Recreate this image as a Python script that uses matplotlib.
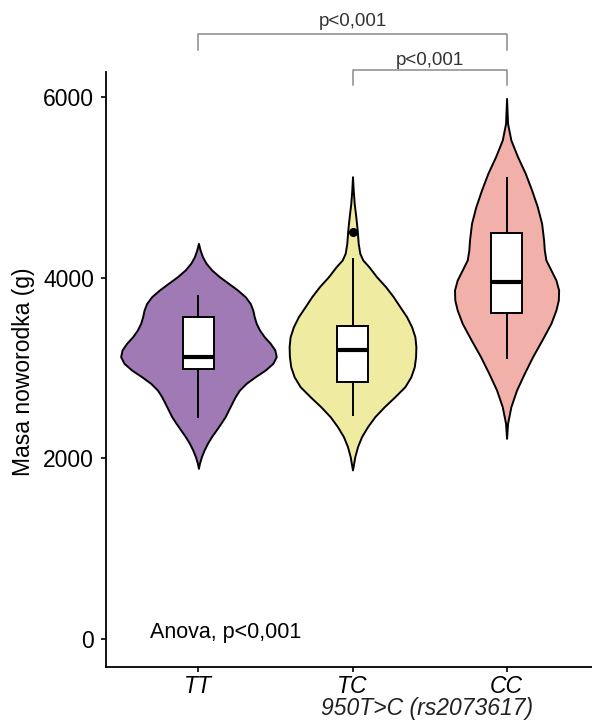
import numpy as np
import matplotlib
matplotlib.use("Agg")
import matplotlib.pyplot as plt

plt.rcParams['font.family'] = ['Liberation Sans', 'DejaVu Sans']

# genotypy
groups = ["TT", "TC", "CC"]
colors = ["#A07AB4", "#EFEBA0", "#F2B0AA"]

# profil gestosci (masa w g, szerokosc w jednostkach wzglednych)
tt_mass = [4379, 4305, 4232, 4158, 4084, 4010, 3937, 3863, 3789, 3715, 3641, 3568,
           3494, 3420, 3346, 3273, 3199, 3125, 3051, 2977, 2903, 2830, 2756, 2682,
           2608, 2535, 2461, 2387, 2313, 2239, 2166, 2092, 2018, 1944, 1889]
tt_dens = [0, 1.7, 4, 7.7, 13.3, 21, 30, 39, 46.7, 51.7, 54.3, 55.7,
           57.7, 61, 65.7, 71.7, 76.3, 77.7, 74.3, 66.7, 56.7, 47.7, 41, 36.7,
           33.3, 30, 26.7, 22.3, 17.7, 13, 9, 5.7, 3, 1, 0]

tc_mass = [5117, 4970, 4822, 4674, 4527, 4379, 4269, 4195, 4121, 4010, 3900, 3789,
           3678, 3568, 3457, 3346, 3236, 3125, 3014, 2903, 2793, 2682, 2571, 2461,
           2350, 2239, 2129, 2018, 1871]
tc_dens = [0, 0.7, 1.7, 3.3, 4.7, 5.7, 7.3, 10.3, 16.3, 24, 33, 40.7,
           47.3, 54, 59, 62.3, 63.3, 63, 61.7, 58.3, 52.3, 42.3, 31.7, 22.3,
           15, 9, 5, 2.3, 0]

cc_mass = [5984, 5707, 5523, 5338, 5154, 4970, 4785, 4601, 4416, 4305, 4195, 4084,
           3973, 3863, 3752, 3641, 3494, 3309, 3125, 2940, 2756, 2571, 2387, 2221]
cc_dens = [0, 1, 4.3, 11, 18.7, 25, 30.7, 35, 37, 37.7, 39.3, 44.3,
           49.3, 52, 51.7, 49.3, 44.3, 35.3, 26, 17.7, 10, 4.3, 1, 0]

# statystyki boxplotu
whis_lo = [2461, 2479, 3106]
q1 = [2985, 2848, 3612]
median = [3125, 3199, 3955]
q3 = [3560, 3464, 4494]
whis_hi = [3796, 4202, 5100]
outliers = [[], [4508], []]

comparisons = [(1, 3, "p<0,001"), (2, 3, "p<0,001")]
anova_label = "Anova, p<0,001"

fig = plt.figure(figsize=(5.92, 7.22), dpi=100)
ax = fig.add_axes([106 / 592, 55 / 722, 493 / 592, 595 / 722])

profiles = [(tt_mass, tt_dens), (tc_mass, tc_dens), (cc_mass, cc_dens)]
dmax = max(max(d) for _, d in profiles)
for i, (m, d) in enumerate(profiles):
    pos = i + 1
    hw = np.array(d) / dmax * 0.505
    ax.fill_betweenx(m, pos - hw, pos + hw, facecolor=colors[i],
                     edgecolor="black", linewidth=1.4, zorder=2)

stats = []
for i in range(3):
    stats.append(dict(whislo=whis_lo[i], q1=q1[i], med=median[i], q3=q3[i],
                      whishi=whis_hi[i], fliers=outliers[i]))
ax.bxp(stats, positions=[1, 2, 3], widths=0.2, patch_artist=True,
       showcaps=False, manage_ticks=False,
       boxprops=dict(facecolor="white", edgecolor="black", linewidth=1.4),
       medianprops=dict(color="black", linewidth=3.0),
       whiskerprops=dict(color="black", linewidth=1.4),
       flierprops=dict(marker="o", markerfacecolor="black", markeredgecolor="black",
                       markersize=5.5),
       zorder=3)

ax.set_xlim(0.4, 3.6)
ax.set_ylim(-310, 6276)
ax.set_xticks([1, 2, 3])
ax.set_xticklabels(groups, fontstyle="italic")
ax.set_yticks([0, 2000, 4000, 6000])
ax.tick_params(axis="both", labelsize=16.5, colors="black", length=3.6, width=1.2)
ax.tick_params(axis="x", pad=2)
ax.tick_params(axis="y", pad=5)
for s in ["top", "right"]:
    ax.spines[s].set_visible(False)
for s in ["left", "bottom"]:
    ax.spines[s].set_linewidth(1.3)

# porownania parami
bracket_y = [(6696, 6519, 6835), (6298, 6132, 6408)]
for (a, b, lab), (yh, yl, yt) in zip(comparisons, bracket_y):
    ax.plot([a, a, b, b], [yl, yh, yh, yl], color="#8a8a8a", linewidth=1.1,
            clip_on=False)
    ax.text((a + b) / 2, yt, lab, ha="center", va="center", fontsize=13.5,
            color="#333333", clip_on=False)

ax.text(0.688, 70, anova_label, ha="left", va="center", fontsize=15.5)

fig.text(427 / 592, 1 - 709 / 722, "950T>C (rs2073617)", ha="center", va="center",
         fontsize=16.5, fontstyle="italic", color="#222222")
fig.text(24 / 592, 1 - 372 / 722, "Masa noworodka (g)", rotation=90,
         ha="center", va="center", fontsize=16.5)

fig.savefig("out.png", dpi=100)
